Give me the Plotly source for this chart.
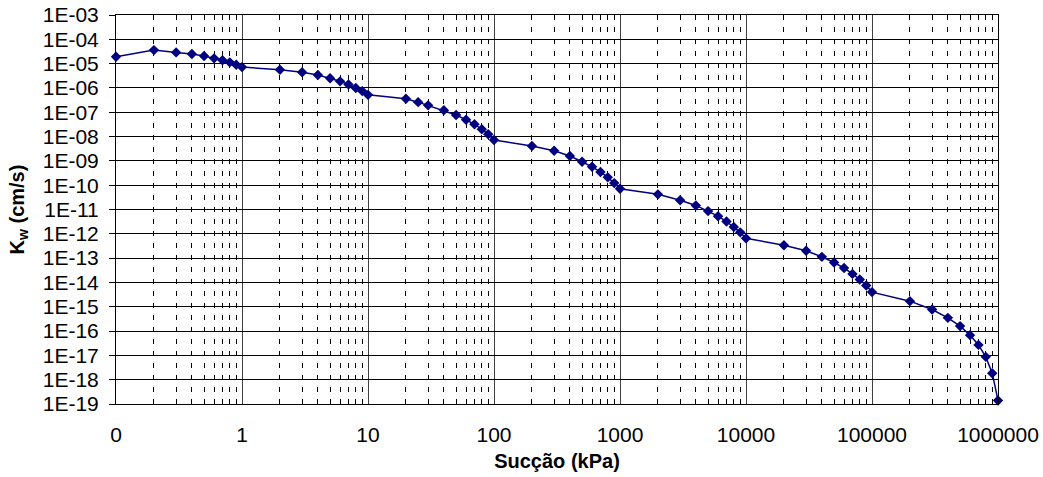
import plotly.graph_objects as go

# Suction (kPa)
succao = [0.1, 0.2, 0.3, 0.4, 0.5, 0.6, 0.7, 0.8, 0.9,
          1, 2, 3, 4, 5, 6, 7, 8, 9,
          10, 20, 25, 30, 40, 50, 60, 70, 80, 90,
          100, 200, 300, 400, 500, 600, 700, 800, 900,
          1000, 2000, 3000, 4000, 5000, 6000, 7000, 8000, 9000,
          10000, 20000, 30000, 40000, 50000, 60000, 70000, 80000, 90000,
          100000, 200000, 300000, 400000, 500000, 600000, 700000, 800000, 900000,
          1000000]

# Hydraulic conductivity Kw (cm/s)
kw = [1.92e-5, 3.6e-5, 2.9e-5, 2.5e-5, 2.05e-5, 1.65e-5, 1.37e-5, 1.13e-5, 9.0e-6,
      7.2e-6, 5.6e-6, 4.4e-6, 3.4e-6, 2.5e-6, 1.87e-6, 1.38e-6, 1.0e-6, 7.4e-7,
      5.2e-7, 3.6e-7, 2.6e-7, 1.92e-7, 1.2e-7, 7.7e-8, 4.9e-8, 3.2e-8, 2.0e-8, 1.24e-8,
      7.2e-9, 4.1e-9, 2.6e-9, 1.58e-9, 9.2e-10, 5.7e-10, 3.5e-10, 2.1e-10, 1.22e-10,
      7.1e-11, 4.2e-11, 2.4e-11, 1.47e-11, 8.6e-12, 5.3e-12, 3.2e-12, 1.9e-12, 1.15e-12,
      6.5e-13, 3.4e-13, 2.0e-13, 1.13e-13, 6.6e-14, 3.9e-14, 2.24e-14, 1.32e-14, 7.5e-15,
      4.0e-15, 1.7e-15, 7.7e-16, 3.5e-16, 1.6e-16, 6.8e-17, 2.7e-17, 8.7e-18, 1.85e-18,
      1.4e-19]

x_tickvals = [0.1, 1, 10, 100, 1000, 10000, 100000, 1000000]
x_ticktext = ["0", "1", "10", "100", "1000", "10000", "100000", "1000000"]
y_exps = list(range(-3, -20, -1))
y_tickvals = [10.0 ** e for e in y_exps]
y_ticktext = ["1E-%02d" % (-e) for e in y_exps]
x_minor = [k * 10.0 ** e for e in range(-1, 6) for k in range(2, 10)]

fig = go.Figure()
fig.add_trace(go.Scatter(
    x=succao, y=kw, mode="lines+markers",
    line=dict(color="#000080", width=1.5),
    marker=dict(symbol="diamond", size=8, color="#000080"),
    cliponaxis=False, showlegend=False,
))

fig.update_layout(
    width=1043, height=477,
    margin=dict(l=116, r=45, t=15, b=73, autoexpand=False),
    paper_bgcolor="white", plot_bgcolor="white",
    font=dict(family="Liberation Sans, Arial, sans-serif", color="black", size=20),
    xaxis=dict(
        type="log", range=[-1, 6], automargin=False,
        tickvals=x_tickvals, ticktext=x_ticktext,
        tickfont=dict(size=21), ticks="", ticklabelstandoff=12,
        showgrid=True, gridcolor="#404040", gridwidth=1,
        showline=True, linecolor="black", linewidth=1, mirror=True,
        zeroline=False,
        minor=dict(tickvals=x_minor, showgrid=True, gridcolor="black", gridwidth=1,
                   griddash="5px,7px", ticks="inside", ticklen=5, tickcolor="black"),
        title=dict(text="<b>Sucção (kPa)</b>", font=dict(size=20), standoff=8),
    ),
    yaxis=dict(
        type="log", range=[-19, -3], automargin=False,
        tickvals=y_tickvals, ticktext=y_ticktext,
        tickfont=dict(size=21), ticks="outside", ticklen=6, tickcolor="black",
        ticklabelstandoff=6,
        showgrid=True, gridcolor="black", gridwidth=1,
        showline=True, linecolor="black", linewidth=1, mirror=True,
        zeroline=False,
        title=dict(text="<b>K<sub>w</sub> (cm/s)</b>", font=dict(size=20), standoff=12),
    ),
)

fig.write_html("out.html")
